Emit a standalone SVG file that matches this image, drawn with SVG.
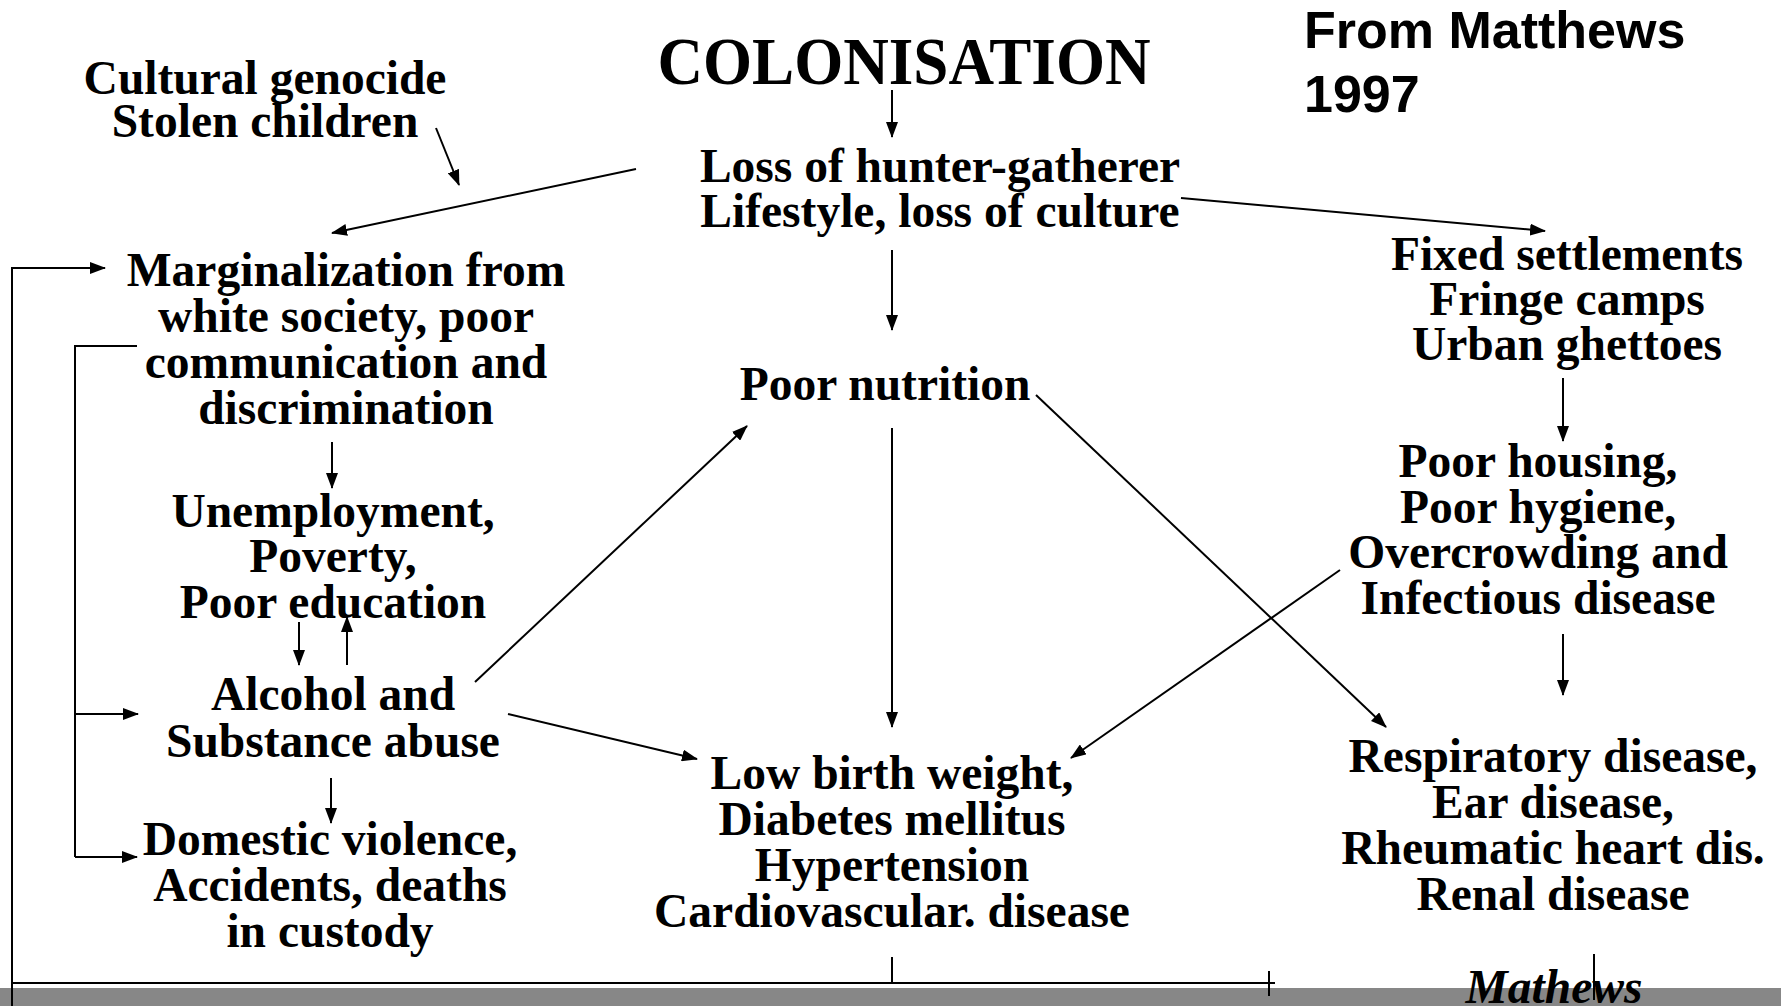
<svg xmlns="http://www.w3.org/2000/svg" width="1781" height="1006" viewBox="0 0 1781 1006">
<style>
.t{font-family:"Liberation Serif","Times New Roman",serif;font-weight:bold;font-size:47.5px;fill:#000;text-anchor:middle}
.title{font-size:68px}
.it{font-style:italic}
.s{font-family:"Liberation Sans",Arial,sans-serif;font-weight:bold;font-size:52px;fill:#000}
.c{stroke:#000;stroke-width:2;fill:none}
.ca{stroke:#000;stroke-width:2;fill:none;marker-end:url(#ah)}
</style>
<defs>
<marker id="ah" markerUnits="userSpaceOnUse" markerWidth="16" markerHeight="12" refX="15" refY="6" orient="auto">
<path d="M0,0 L16,6 L0,12 z" fill="#000"/>
</marker>
</defs>
<rect width="1781" height="1006" fill="#fff"/>
<rect x="0" y="988" width="1781" height="18" fill="#878787"/>

<g id="colonisation"><text class="t title" x="904" y="84" textLength="493" lengthAdjust="spacingAndGlyphs">COLONISATION</text></g>
<g id="source"><text class="s" x="1304" y="48">From Matthews</text><text class="s" x="1304" y="112">1997</text></g>
<g id="cultural"><text class="t" x="265" y="94">Cultural genocide</text><text class="t" x="265" y="137">Stolen children</text></g>
<g id="loss"><text class="t" x="940" y="182">Loss of hunter-gatherer</text><text class="t" x="940" y="227">Lifestyle, loss of culture</text></g>
<g id="marginalization"><text class="t" x="346" y="286">Marginalization from</text><text class="t" x="346" y="332">white society, poor</text><text class="t" x="346" y="378">communication and</text><text class="t" x="346" y="424">discrimination</text></g>
<g id="unemployment"><text class="t" x="333" y="527">Unemployment,</text><text class="t" x="333" y="572">Poverty,</text><text class="t" x="333" y="618">Poor education</text></g>
<g id="alcohol"><text class="t" x="333" y="710">Alcohol and</text><text class="t" x="333" y="757">Substance abuse</text></g>
<g id="domestic"><text class="t" x="330" y="855">Domestic violence,</text><text class="t" x="330" y="901">Accidents, deaths</text><text class="t" x="330" y="947">in custody</text></g>
<g id="nutrition"><text class="t" x="885" y="400">Poor nutrition</text></g>
<g id="lowbirth"><text class="t" x="892" y="789">Low birth weight,</text><text class="t" x="892" y="835">Diabetes mellitus</text><text class="t" x="892" y="881">Hypertension</text><text class="t" x="892" y="927">Cardiovascular. disease</text></g>
<g id="settlements"><text class="t" x="1567" y="270">Fixed settlements</text><text class="t" x="1567" y="315">Fringe camps</text><text class="t" x="1567" y="360">Urban ghettoes</text></g>
<g id="housing"><text class="t" x="1538" y="477">Poor housing,</text><text class="t" x="1538" y="523">Poor hygiene,</text><text class="t" x="1538" y="568">Overcrowding and</text><text class="t" x="1538" y="614">Infectious disease</text></g>
<g id="respiratory"><text class="t" x="1553" y="772">Respiratory disease,</text><text class="t" x="1553" y="818">Ear disease,</text><text class="t" x="1553" y="864">Rheumatic heart dis.</text><text class="t" x="1553" y="910">Renal disease</text></g>
<g id="mathews"><text class="t it" x="1554" y="1003">Mathews</text></g>

<g id="connectors">
<line class="ca" x1="892" y1="90" x2="892" y2="137"/>
<line class="ca" x1="436" y1="128" x2="459" y2="185"/>
<line class="ca" x1="636" y1="169" x2="332" y2="233"/>
<line class="ca" x1="1181" y1="198" x2="1545" y2="231"/>
<line class="ca" x1="892" y1="250" x2="892" y2="330"/>
<line class="ca" x1="892" y1="428" x2="892" y2="727"/>
<line class="ca" x1="1036" y1="395" x2="1386" y2="727"/>
<line class="ca" x1="1340" y1="570" x2="1071" y2="758"/>
<line class="ca" x1="508" y1="714" x2="697" y2="759"/>
<line class="ca" x1="475" y1="682" x2="747" y2="426"/>
<line class="ca" x1="332" y1="442" x2="332" y2="488"/>
<line class="ca" x1="299" y1="622" x2="299" y2="665"/>
<line class="ca" x1="347" y1="665" x2="347" y2="617"/>
<line class="ca" x1="331" y1="778" x2="331" y2="823"/>
<line class="ca" x1="1563" y1="378" x2="1563" y2="441"/>
<line class="ca" x1="1563" y1="634" x2="1563" y2="695"/>
<polyline class="ca" points="12,1006 12,268 105,268"/>
<polyline class="c" points="137,346 75,346 75,857"/>
<line class="ca" x1="75" y1="714" x2="138" y2="714"/>
<line class="ca" x1="75" y1="857" x2="137" y2="857"/>
<line class="c" x1="12" y1="983" x2="1275" y2="983"/>
<line class="c" x1="892" y1="957" x2="892" y2="983"/>
<line class="c" x1="1269" y1="971" x2="1269" y2="996"/>
<line class="c" x1="1594" y1="954" x2="1594" y2="1000"/>
</g>
</svg>
